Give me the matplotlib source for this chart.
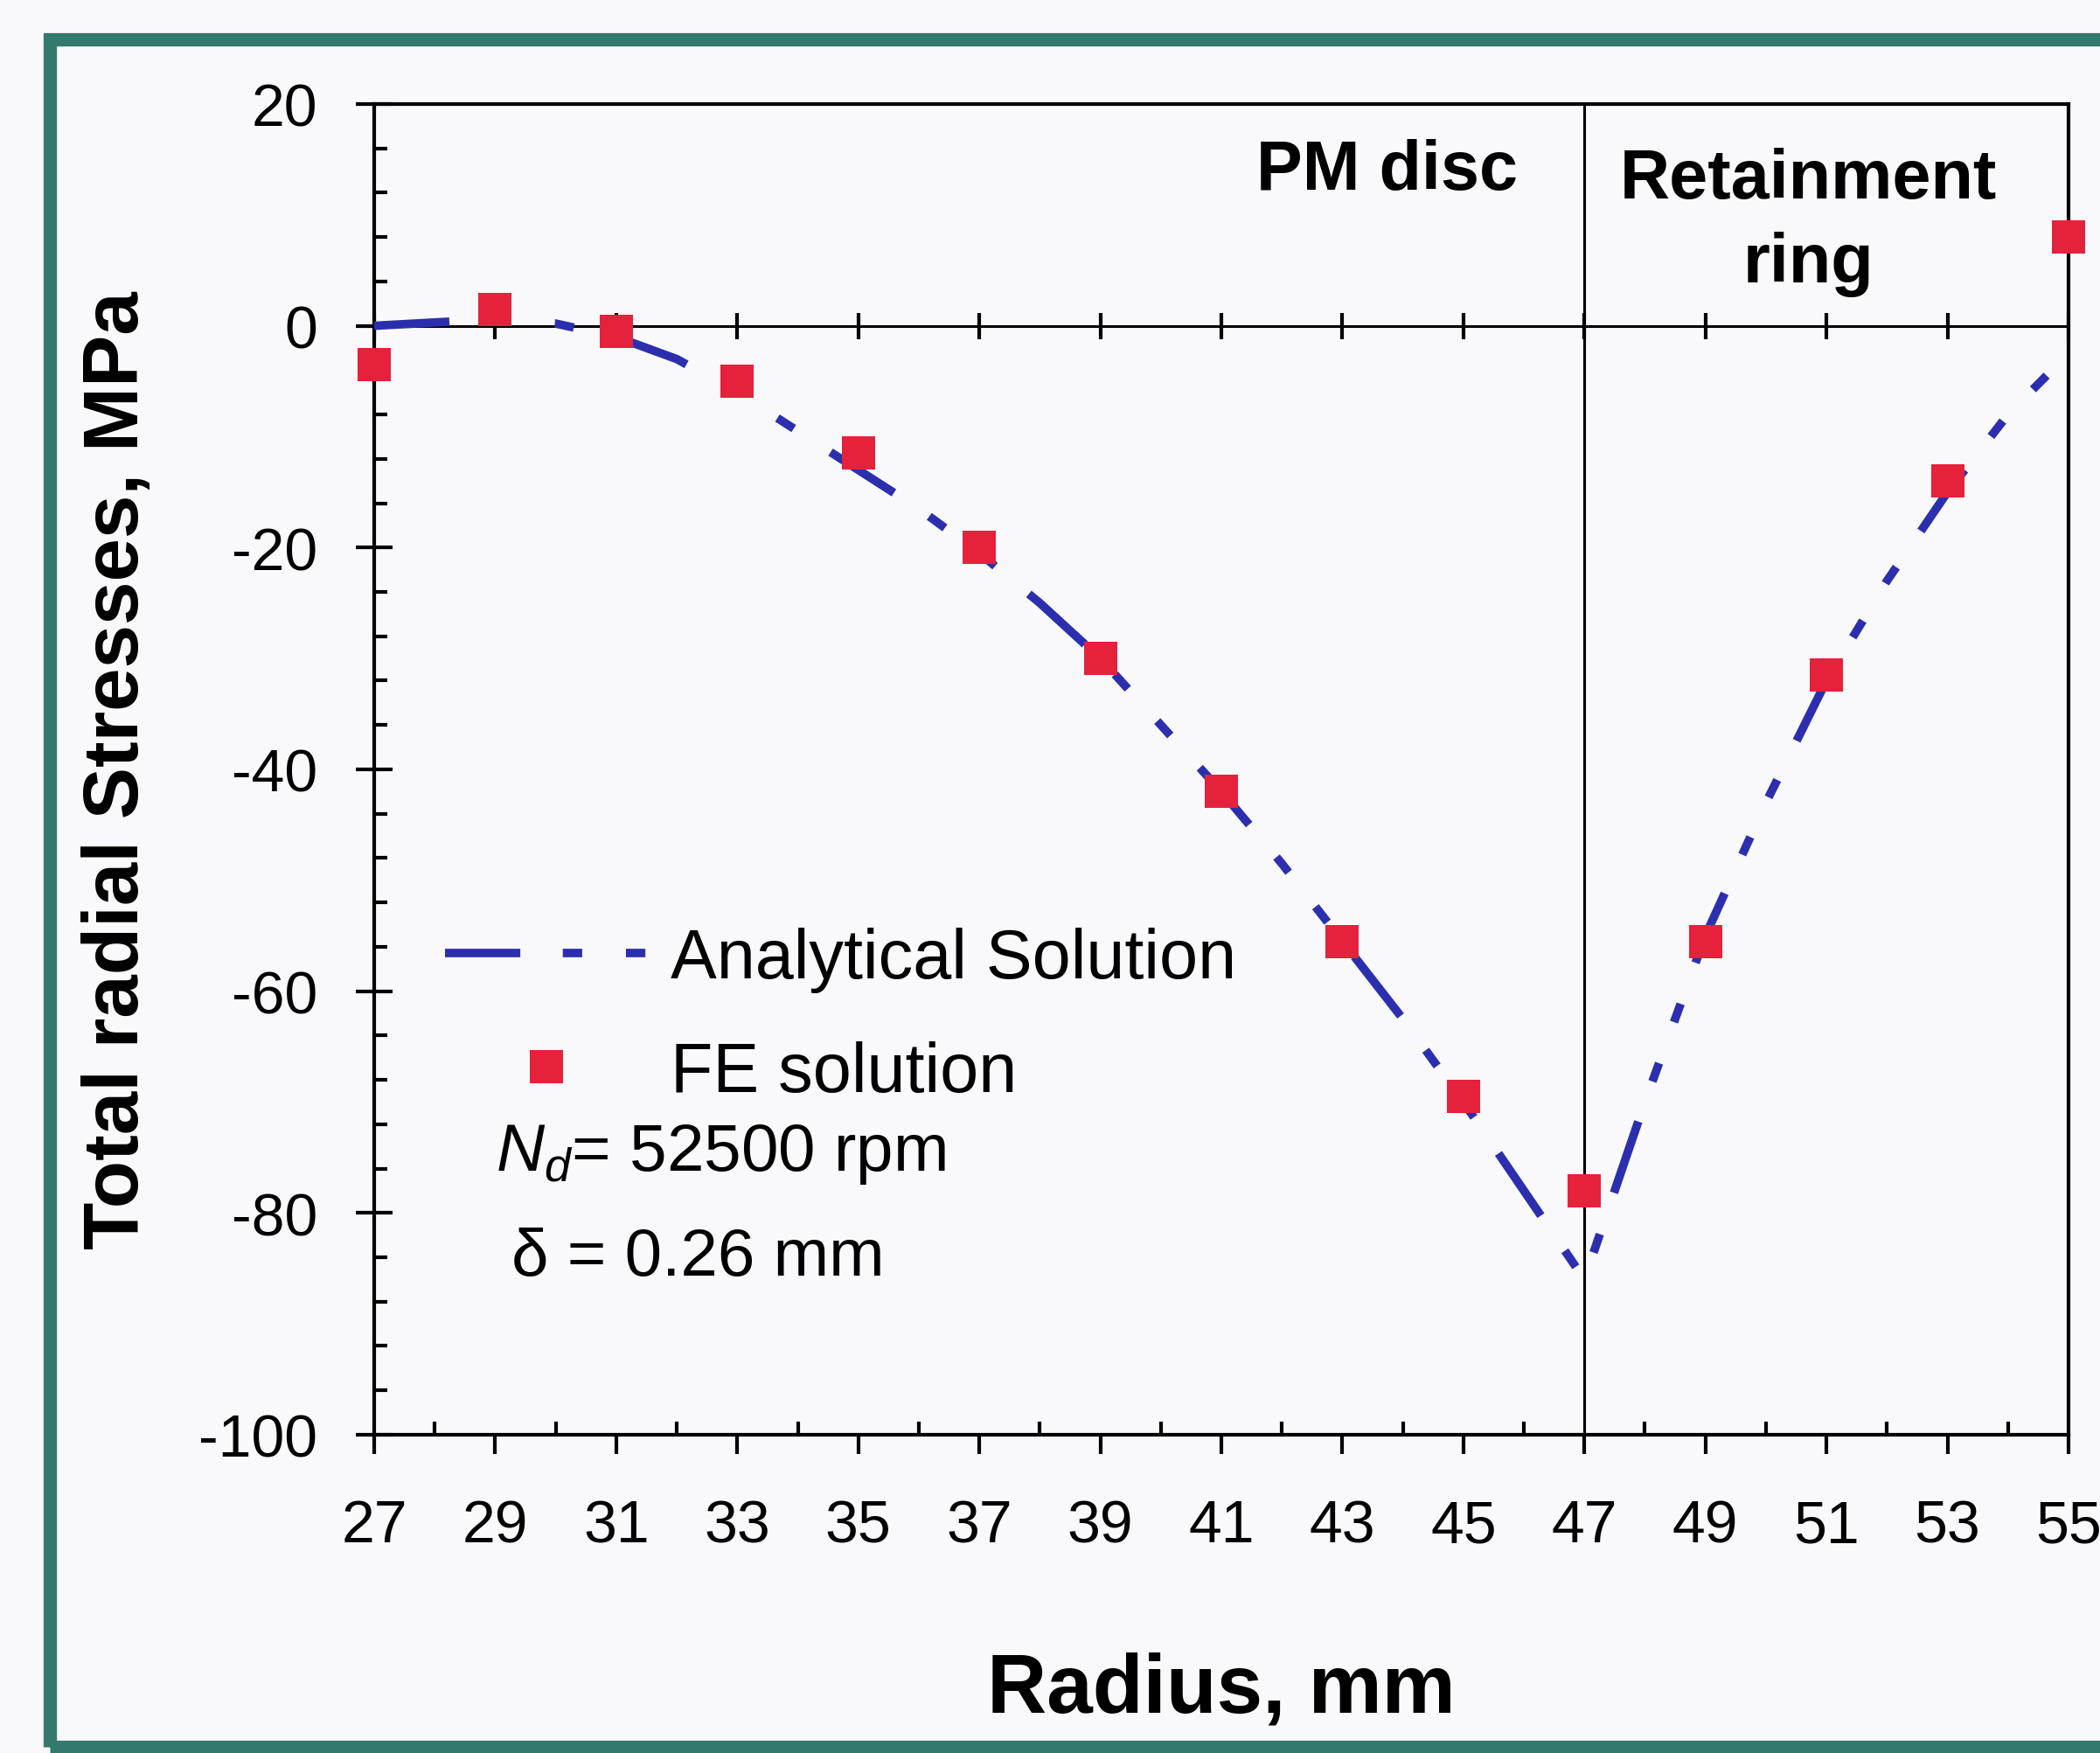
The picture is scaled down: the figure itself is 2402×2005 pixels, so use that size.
import matplotlib
matplotlib.use("Agg")
import matplotlib.pyplot as plt
from matplotlib import font_manager
from matplotlib.lines import Line2D
from matplotlib.patches import Rectangle
from matplotlib.ticker import MultipleLocator

# ---- data -------------------------------------------------------------
fe_radius = [27, 29, 31, 33, 35, 37, 39, 41, 43, 45, 47, 49, 51, 53, 55]
fe_stress = [-3.5, 1.5, -0.5, -5.0, -11.5, -20.0, -30.0, -42.0, -55.5,
             -69.5, -78.0, -55.5, -31.5, -14.0, 8.0]

an_radius = [27, 28, 29, 30, 31, 32, 33, 34, 35, 36, 37, 38, 39, 40, 41,
             42, 43, 44, 45, 46, 47, 48, 49, 50, 51, 52, 53, 54, 55]
an_stress = [0.0, 0.3, 0.6, 0.2, -1.0, -3.0, -6.0, -9.5, -13.0, -16.5,
             -20.5, -25.0, -30.0, -36.0, -42.0, -48.5, -55.5, -62.5, -70.0,
             -78.0, -86.0, -70.0, -55.0, -43.0, -32.0, -23.0, -15.0, -8.0,
             -2.5]

x_ticks = list(range(27, 56, 2))
y_ticks = [20, 0, -20, -40, -60, -80, -100]
interface_radius = 47

# ---- fonts ------------------------------------------------------------
def available(name):
    try:
        font_manager.findfont(font_manager.FontProperties(family=name),
                              fallback_to_default=False)
        return True
    except Exception:
        return False

SANS = "Liberation Sans" if available("Liberation Sans") else "DejaVu Sans"
NARROW = "Liberation Sans Narrow" if available("Liberation Sans Narrow") else SANS
narrow_size = 55 if NARROW != SANS else 49

plt.rcParams["font.family"] = [SANS, "DejaVu Sans"]
plt.rcParams["mathtext.fontset"] = "custom"
plt.rcParams["mathtext.rm"] = SANS
plt.rcParams["mathtext.it"] = SANS + ":italic"
plt.rcParams["lines.scale_dashes"] = False

BLUE = "#2b2fae"
RED = "#e5213c"
FRAME = "#34796d"
BG = "#f9f9fb"

fig = plt.figure(figsize=(24.02, 20.06), dpi=100, facecolor=BG)
ax = fig.add_axes([0.1782, 0.1815, 0.8068, 0.7587])
ax.set_facecolor(BG)

# outer teal frame
fig.patches.append(Rectangle((0.0237, 0.0035), 1.2, 0.9735,
                             transform=fig.transFigure, fill=False,
                             edgecolor=FRAME, linewidth=11, clip_on=False))

dash_dot_dot = (0, (62, 35, 16, 36, 16, 36))

ax.plot(an_radius, an_stress, color=BLUE, linewidth=7,
        linestyle=dash_dot_dot, dash_capstyle="butt", zorder=3)
ax.plot(fe_radius, fe_stress, linestyle="none", marker="s",
        markersize=28, color=RED, markeredgewidth=0, zorder=4,
        clip_on=False)

# zero line with crossing ticks, and the disc / ring interface
ax.axhline(0, color="black", linewidth=2.2, zorder=2)
ax.plot(x_ticks, [0] * len(x_ticks), linestyle="none", marker="|",
        markersize=22, markeredgewidth=3, color="black", zorder=2)
ax.axvline(interface_radius, color="black", linewidth=2.2, zorder=2)

ax.set_xlim(27, 55)
ax.set_ylim(-100, 20)
ax.set_xticks(x_ticks)
ax.set_xticklabels([str(v) for v in x_ticks])
ax.xaxis.set_minor_locator(MultipleLocator(1))
ax.set_yticks(y_ticks)
ax.set_yticklabels([str(v) for v in y_ticks])
ax.yaxis.set_minor_locator(MultipleLocator(4))

for s in ax.spines.values():
    s.set_linewidth(3)
    s.set_color("black")

ax.tick_params(axis="x", which="major", direction="out", length=16,
               width=3, pad=36, labelsize=narrow_size)
ax.tick_params(axis="x", which="minor", direction="in", length=11, width=3)
ax.tick_params(axis="y", which="major", direction="inout", length=30,
               width=3, pad=32, labelsize=narrow_size)
ax.tick_params(axis="y", which="minor", direction="in", length=11, width=3)
for lab in ax.get_xticklabels() + ax.get_yticklabels():
    lab.set_family([NARROW, SANS])

ax.set_xlabel("Radius, mm", fontsize=68, fontweight="bold", labelpad=80)
ax.set_ylabel("Total radial Stresses, MPa", fontsize=64, fontweight="bold",
              labelpad=36)

# region labels
ax.text(45.9, 14.0, "PM disc", fontsize=57, fontweight="bold",
        ha="right", va="center")
ax.text(50.7, 9.4, "Retainment\nring", fontsize=57, fontweight="bold",
        ha="center", va="center", linespacing=1.35)

# legend
handles = [
    Line2D([], [], color=BLUE, linewidth=7, linestyle=dash_dot_dot,
           dash_capstyle="butt"),
    Line2D([], [], color=RED, linestyle="none", marker="s", markersize=28,
           markeredgewidth=0),
]
ax.legend(handles, ["Analytical Solution", "FE solution"],
          loc="upper left", bbox_to_anchor=(0.042, 0.382), frameon=False,
          fontsize=57, borderpad=0, borderaxespad=0, handlelength=2.93,
          handletextpad=0.32, labelspacing=0.70)

ax.text(0.0717, 0.211, r"$\mathit{N_d}$= 52500 rpm", transform=ax.transAxes,
        fontsize=55, ha="left", va="center")
ax.text(0.081, 0.133, "\u03b4 = 0.26 mm", transform=ax.transAxes,
        fontsize=55, ha="left", va="center")

fig.savefig("out.png", dpi=100, facecolor=BG)
